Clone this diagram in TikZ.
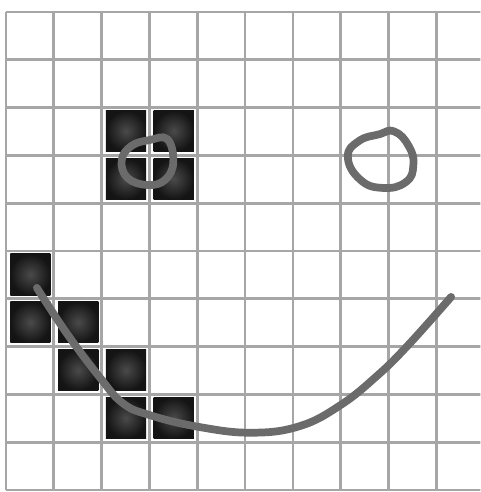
\documentclass[tikz,border=0pt]{standalone}
\usetikzlibrary{calc}
\definecolor{GridGray}{HTML}{A6A6A6}
\definecolor{PenGray} {HTML}{6B6B6B}
\definecolor{InkDark} {HTML}{4A4A4A}
\definecolor{InkEdge} {HTML}{141414}

\begin{document}
\begin{tikzpicture}[
  x=1cm, y=-1cm,
  gridline/.style={draw=GridGray, line width=1.6pt},
  blot/.style={inner color=InkDark, outer color=InkEdge},
  pen/.style={draw=PenGray, line width=4.6pt, line cap=round, line join=round},
]
  \useasboundingbox[fill=white] (-0.125,-0.25) rectangle (9.92,10.04);
  \clip (-0.125,-0.25) rectangle (9.92,10.04);

  % squares that the strokes pass through
  \foreach \c/\r in {2/2,3/2,2/3,3/3,0/5,0/6,1/6,1/7,2/7,2/8,3/8}
    \shade[blot] (\c+0.09,\r+0.06) rectangle (\c+0.93,\r+0.92);

  % the grid
  \foreach \i in {0,...,10}{
    \draw[gridline] (\i,0) -- (\i,10);
    \draw[gridline] (0,\i) -- (10.5,\i);
  }

  % left eye
  \draw[pen] plot[smooth cycle, tension=0.7] coordinates {
    (3.0,2.68) (3.375,2.66) (3.5,3.14) (3.33,3.51)
    (2.96,3.62) (2.54,3.47) (2.42,3.10) (2.625,2.80)};
  % right eye
  \draw[pen] plot[smooth cycle, tension=0.8] coordinates {
    (8.12,2.50) (8.42,2.80) (8.52,3.20) (8.36,3.56)
    (7.87,3.68) (7.40,3.50) (7.15,3.03) (7.38,2.70) (7.80,2.56)};
  % mouth
  \draw[pen] plot[smooth, tension=0.7] coordinates {
    (0.646,5.77) (1.27,6.72) (1.96,7.64) (2.44,8.18) (3.0,8.43)
    (4.04,8.68) (5.15,8.80) (6.15,8.66) (7.00,8.22)
    (7.75,7.62) (8.40,6.98) (9.31,5.96)};
\end{tikzpicture}
\end{document}
